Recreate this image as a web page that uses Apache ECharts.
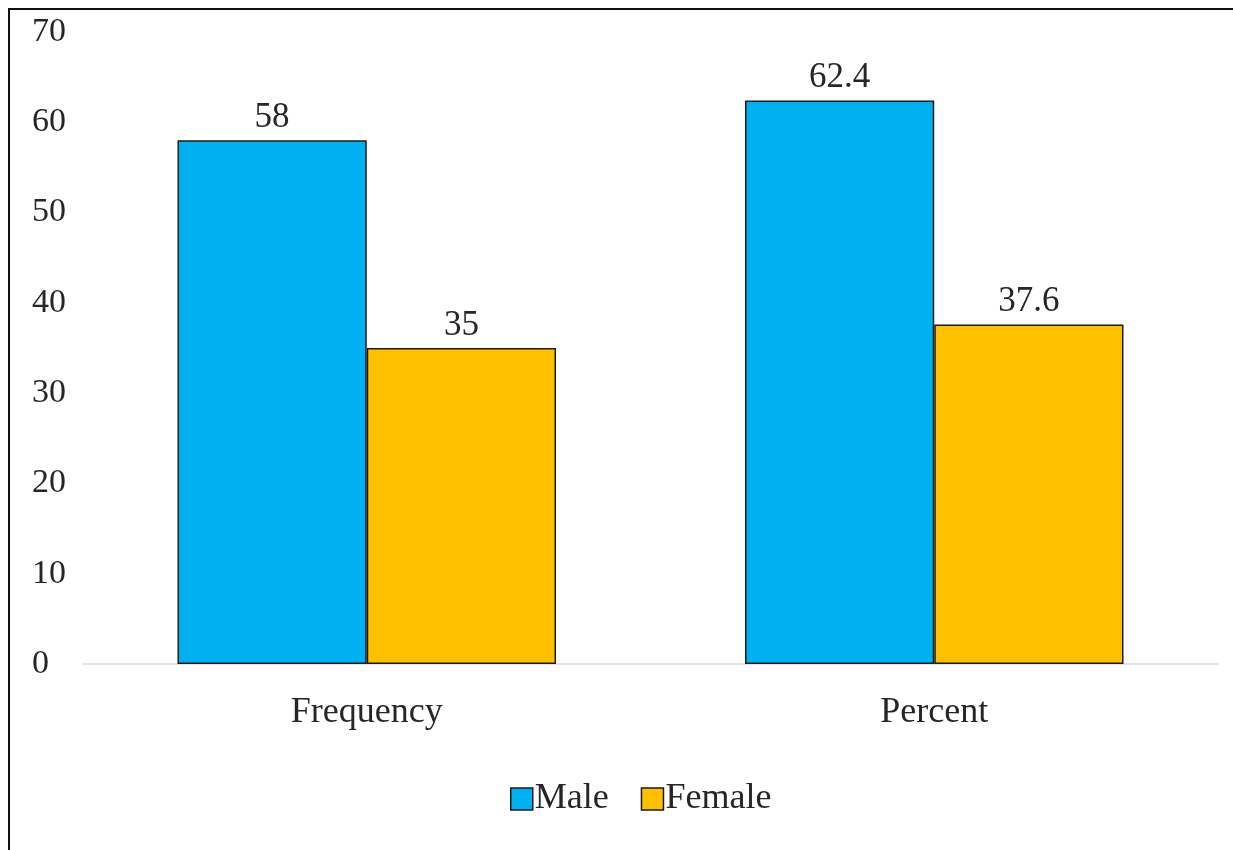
<!DOCTYPE html>
<html>
<head>
<meta charset="utf-8">
<script src="https://cdn.jsdelivr.net/npm/echarts@6/dist/echarts.min.js"></script>
<style>
  html, body { margin: 0; padding: 0; background: #fff; }
  #frame {
    position: absolute; left: 8px; top: 8px;
    width: 1300px; height: 900px;
    border: 2px solid #111; box-sizing: border-box;
  }
  #myChart { position: absolute; left: 0; top: 0; width: 1233px; height: 850px; }
</style>
</head>
<body>
<div id="frame"></div>
<div id="myChart"></div>
<script>
var categories = ["Frequency", "Percent"];
var maleValues = [58, 62.4];
var femaleValues = [35, 37.6];
var yTicks = { min: 0, max: 70, step: 10 };

var fontFamily = "'Liberation Serif', 'Times New Roman', serif";
var textColor = "#262626";

var myChart = echarts.init(document.getElementById("myChart"));

function barSeries(name, data, color) {
  return {
    name: name,
    type: "bar",
    data: data,
    barGap: 0,
    barCategoryGap: "33.3%",
    itemStyle: {
      color: color,
      borderColor: "#1a1a1a",
      borderWidth: 1.5
    },
    label: {
      show: true,
      position: "top",
      distance: 5,
      color: textColor,
      fontFamily: fontFamily,
      fontSize: 35
    }
  };
}

myChart.setOption({
  animation: false,
  grid: { left: 83, right: 15, top: 32, bottom: 186 },
  legend: {
    data: ["Male", "Female"],
    top: 776,
    left: 505,
    itemWidth: 22,
    itemHeight: 22,
    itemGap: 32,
    icon: "rect",
    itemStyle: { borderColor: "#1a1a1a", borderWidth: 1.5 },
    textStyle: { color: textColor, fontFamily: fontFamily, fontSize: 36, padding: [0, 0, 0, -3] }
  },
  xAxis: {
    type: "category",
    data: categories,
    axisLine: { lineStyle: { color: "#d9d9d9", width: 1.5 } },
    axisTick: { show: false },
    axisLabel: { color: textColor, fontFamily: fontFamily, fontSize: 36, margin: 31 }
  },
  yAxis: {
    type: "value",
    min: yTicks.min,
    max: yTicks.max,
    interval: yTicks.step,
    axisLine: { show: false },
    axisTick: { show: false },
    splitLine: { show: false },
    axisLabel: { color: textColor, fontFamily: fontFamily, fontSize: 34, align: "left", margin: 51 }
  },
  series: [
    barSeries("Male", maleValues, "#00B0F0"),
    barSeries("Female", femaleValues, "#FFC000")
  ]
});
</script>
</body>
</html>
